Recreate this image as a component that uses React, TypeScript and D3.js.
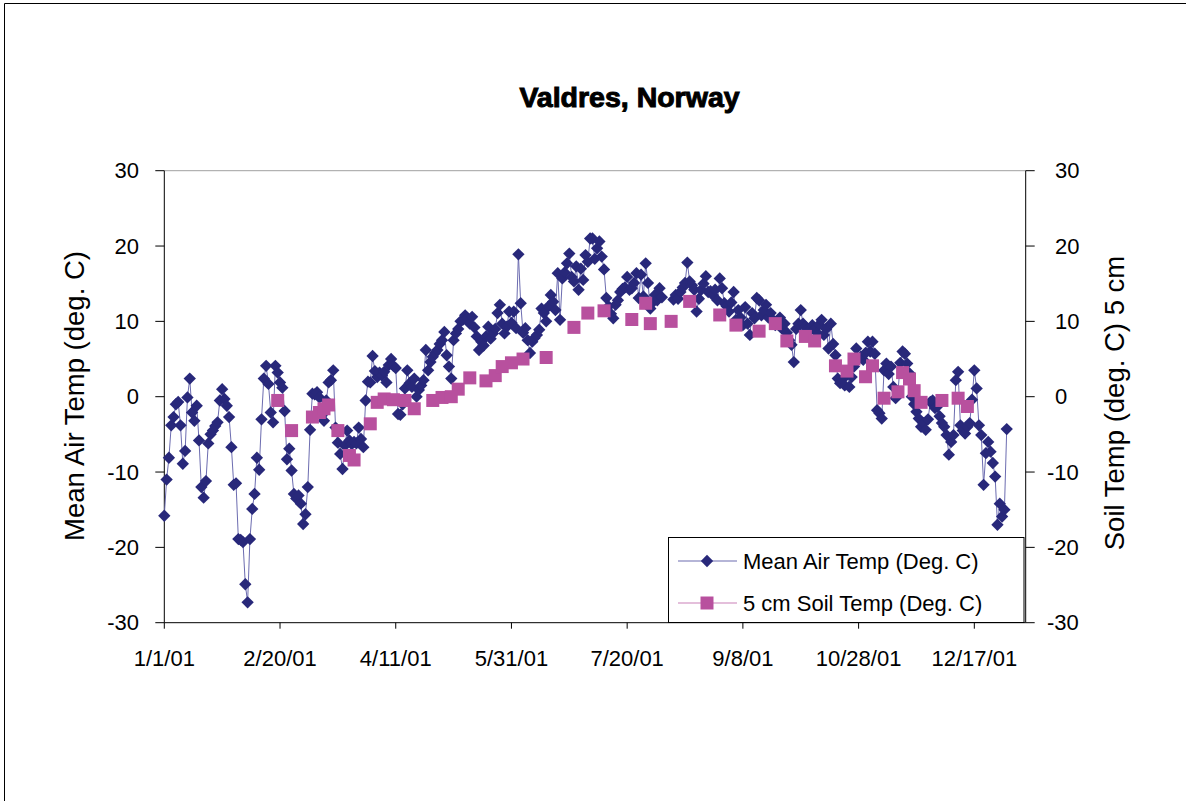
import React from "react";
import * as d3 from "d3";

// Mean air temperature, one value per day starting 1/1/01 (null = no reading)
const airTemp: (number | null)[] = [
  -15.8, -11.0, -8.1, -3.8, -2.7, -1.0, -0.7, -3.8, -8.9, -7.2,
  -0.1, 2.4, -2.1, -3.2, -1.2, -5.8, -12.0, -13.4, -11.2, -6.2,
  -5.0, -4.5, -3.9, -3.4, -0.5, 1.0, -0.3, -1.2, -2.7, -6.7,
  -11.7, -11.5, -18.9, -19.0, -19.3, -24.9, -27.3, -18.9, -14.9, -12.9,
  -8.1, -9.7, -3.0, 2.4, 4.1, 1.7, -2.1, -3.4, 4.1, 3.2,
  1.9, 1.2, -1.9, -8.3, -6.9, -9.8, -12.9, -13.5, -13.1, -14.2,
  -16.9, -15.6, -12.0, -4.4, 0.4, 0.3, 0.6, -0.1, -2.5, -3.2,
  -0.5, 1.9, 2.2, 3.5, -4.1, -6.1, -7.6, -9.6, -6.5, -4.5,
  -5.8, -6.3, -6.0, -6.2, -4.1, -5.6, -6.7, -0.5, 2.0, 1.9,
  5.4, 3.4, 2.6, 3.2, 2.8, 3.3, 1.9, 4.2, 5.0, 4.1,
  3.8, -2.3, -2.4, -1.0, 1.1, 3.5, 1.8, 1.3, 2.4, 0.0,
  0.9, 1.5, 2.2, 6.2, 3.5, 4.6, 5.3, 5.8, 6.2, 7.0,
  7.5, 8.6, 5.5, 4.0, 2.4, 7.5, 8.4, 9.0, 10.0, 10.2,
  10.8, 10.4, 9.7, 10.6, 9.2, 8.0, 6.2, 7.3, 6.8, 8.0,
  9.3, 7.7, 8.4, 9.0, 11.1, 12.2, 9.7, 8.4, 9.3, 11.3,
  9.8, 11.3, 9.1, 18.9, 12.4, 8.5, 9.1, 7.5, 5.8, 7.3,
  7.8, 8.2, 8.9, 11.7, 11.1, 10.0, 12.0, 13.5, 12.6, 11.5,
  16.4, 10.2, 15.7, 16.5, 17.7, 19.0, 15.9, 15.3, 17.3, 14.2,
  17.0, 15.5, 18.8, 17.9, 21.0, 21.0, 18.3, 19.7, 20.6, 18.6,
  16.9, 13.1, 12.0, 11.0, 10.4, 12.2, 12.8, 13.9, 14.3, 14.5,
  15.9, 14.2, 14.4, 15.1, 16.4, 13.1, 16.2, 13.3, 17.7, 15.1,
  11.7, 12.5, 13.5, 12.8, 14.4, 13.2, null, null, null, null,
  12.9, 13.5, 13.0, 13.9, 14.5, 15.1, 17.8, 15.3, 14.8, 14.2,
  11.3, 13.0, 14.2, 15.0, 16.0, 13.9, 14.0, 13.5, 14.2, 12.8,
  15.7, 14.4, 12.4, 12.0, 11.3, 12.5, 13.9, 10.2, 11.5, 10.5,
  9.5, 11.9, 9.7, 8.2, 11.1, 10.4, 13.1, 12.8, 10.8, 11.5,
  12.2, 10.5, 11.1, 10.2, 9.5, 9.9, 10.5, 9.0, 9.7, 8.5,
  7.5, 6.9, 4.6, 9.0, 9.7, 11.5, 9.7, 9.3, 9.0, 8.8,
  9.5, 9.0, 8.5, 9.6, 10.2, 8.2, 9.0, 6.4, 9.7, 7.0,
  5.5, 2.4, 1.8, 2.3, 1.5, 3.0, 1.3, 2.6, 4.0, 6.4,
  5.0, 5.3, 4.9, 5.8, 7.3, 6.0, 7.3, 5.7, -1.8, -2.2,
  -2.9, 3.5, 4.4, 3.0, 4.0, 1.3, -0.2, 0.5, 4.5, 6.0,
  5.7, 4.4, 3.1, 0.0, -1.0, -2.0, -2.9, -4.0, -3.5, -4.4,
  -3.0, -0.7, -0.5, -1.5, -1.3, -2.6, -3.5, -4.0, -5.1, -7.7,
  -6.0, -5.1, 2.2, 3.3, -3.8, -4.5, -4.9, -4.0, -3.5, -0.4,
  3.5, 1.1, -3.8, -5.1, -11.7, -7.5, -6.0, -7.3, -8.8, -10.6,
  -17.0, -14.2, -15.9, -15.0, -4.3,
];

// 5 cm soil temperature: day offsets from 1/1/01 and readings
const soilDays: number[] = [
  49, 55, 64, 67, 69, 71, 75, 80, 82, 89,
  92, 95, 99, 104, 108, 116, 120, 124, 127, 132,
  139, 143, 146, 150, 155, 165, 177, 183, 190, 202,
  208, 210, 219, 227, 240, 247, 257, 264, 269, 277,
  281, 290, 295, 298, 303, 306, 311, 317, 319, 322,
  324, 327, 336, 343, 347,
];
const soilTemp: number[] = [
  -0.5, -4.5, -2.7, -2.1, -1.6, -1.1, -4.5, -7.8, -8.4, -3.6,
  -0.75, -0.3, -0.4, -0.5, -1.6, -0.5, -0.1, 0.0, 1.0, 2.5,
  2.1, 2.8, 4.0, 4.5, 5.0, 5.2, 9.2, 11.1, 11.4, 10.25,
  12.4, 9.7, 10.0, 12.65, 10.85, 9.5, 8.7, 9.7, 7.4, 8.0,
  7.4, 4.1, 3.4, 5.0, 2.65, 4.1, -0.2, 0.65, 3.2, 2.35,
  0.8, -0.75, -0.5, -0.2, -1.3,
];

const xTickDays: number[] = [0, 50, 100, 150, 200, 250, 300, 350];
const xTickLabels: string[] = ["1/1/01", "2/20/01", "4/11/01", "5/31/01", "7/20/01", "9/8/01", "10/28/01", "12/17/01"];
const yTicks: number[] = [-30, -20, -10, 0, 10, 20, 30];

const title = "Valdres, Norway";
const leftTitle = "Mean Air Temp (deg. C)";
const rightTitle = "Soil Temp (deg. C) 5 cm";
const seriesNames: string[] = ["Mean Air Temp (Deg. C)", "5 cm Soil Temp (Deg. C)"];

const W = 1186;
const H = 801;
const L = 164.3, R = 1025.7, T = 170.7, B = 622.7;
const FONT = "'Liberation Sans', Arial, sans-serif";
const NAVY = "#28287a";
const NAVY_LINE = "#6c6cb0";
const PINK = "#b8509e";
const PINK_LINE = "#c980b8";

export default function App() {
  const x = d3.scaleLinear().domain([0, 372.2]).range([L, R]);
  const y = d3.scaleLinear().domain([-30, 30]).range([B, T]);

  const airPts = airTemp.map((v, i) => ({ d: i, v }));
  const line = d3
    .line<{ d: number; v: number | null }>()
    .defined((p) => p.v != null)
    .x((p) => x(p.d))
    .y((p) => y(p.v as number));

  const diamond = d3.symbol(d3.symbolSquare, 76)();
  const square = d3.symbol(d3.symbolSquare, 169)();

  return (
    <svg
      width={W}
      height={H}
      style={{ position: "absolute", left: 0, top: 0, background: "#fff" }}
      fontFamily={FONT}
    >
      <rect x={0} y={0} width={W} height={H} fill="#fff" />
      {/* outer frame */}
      <line x1={4.5} y1={3.5} x2={W} y2={3.5} stroke="#000" />
      <line x1={4.5} y1={3.5} x2={4.5} y2={H} stroke="#000" />

      <text x={629.5} y={107} textAnchor="middle" fontSize={28.5} fontWeight="bold" stroke="#000" strokeWidth={1}>
        {title}
      </text>

      {/* plot frame */}
      <line x1={L} y1={T} x2={R} y2={T} stroke="#a0a0a0" />
      <line x1={L} y1={T} x2={L} y2={B} stroke="#000" />
      <line x1={R} y1={T} x2={R} y2={B} stroke="#000" />
      <line x1={L} y1={B} x2={R} y2={B} stroke="#000" />

      {yTicks.map((t) => (
        <g key={"yl" + t}>
          <line x1={L - 9} x2={L} y1={y(t)} y2={y(t)} stroke="#000" />
          <text x={139} y={y(t) + 7.5} textAnchor="end" fontSize={22}>
            {t}
          </text>
          <line x1={R} x2={R + 9} y1={y(t)} y2={y(t)} stroke="#000" />
          <text x={t < 0 ? 1047 : 1055} y={y(t) + 7.5} textAnchor="start" fontSize={22}>
            {t}
          </text>
        </g>
      ))}

      {xTickDays.map((d, i) => (
        <g key={"xt" + d}>
          <line x1={x(d)} x2={x(d)} y1={B} y2={B + 6} stroke="#000" />
          <text x={x(d)} y={666} textAnchor="middle" fontSize={22}>
            {xTickLabels[i]}
          </text>
        </g>
      ))}

      <text transform="translate(84,396) rotate(-90)" textAnchor="middle" fontSize={27.5}>
        {leftTitle}
      </text>
      <text transform="translate(1124,403) rotate(-90)" textAnchor="middle" fontSize={27.5}>
        {rightTitle}
      </text>

      {/* air series */}
      <path d={line(airPts) || ""} fill="none" stroke={NAVY_LINE} strokeWidth={1} />
      {airPts
        .filter((p) => p.v != null)
        .map((p) => (
          <path
            key={"a" + p.d}
            d={diamond || ""}
            transform={`translate(${x(p.d)},${y(p.v as number)}) rotate(45)`}
            fill={NAVY}
          />
        ))}

      {/* soil series */}
      {soilDays.map((d, i) => (
        <path key={"s" + i} d={square || ""} transform={`translate(${x(d)},${y(soilTemp[i])})`} fill={PINK} />
      ))}

      {/* legend */}
      <rect x={668.5} y={537.5} width={355.5} height={85} fill="#fff" stroke="#000" />
      <line x1={678} x2={737} y1={561} y2={561} stroke={NAVY_LINE} strokeWidth={1.2} />
      <path d={diamond || ""} transform="translate(707,561) rotate(45)" fill={NAVY} />
      <text x={743} y={568.5} fontSize={22}>
        {seriesNames[0]}
      </text>
      <line x1={678} x2={737} y1={603} y2={603} stroke={PINK_LINE} strokeWidth={1.2} />
      <path d={square || ""} transform="translate(707,603)" fill={PINK} />
      <text x={743} y={610.5} fontSize={22}>
        {seriesNames[1]}
      </text>
    </svg>
  );
}
